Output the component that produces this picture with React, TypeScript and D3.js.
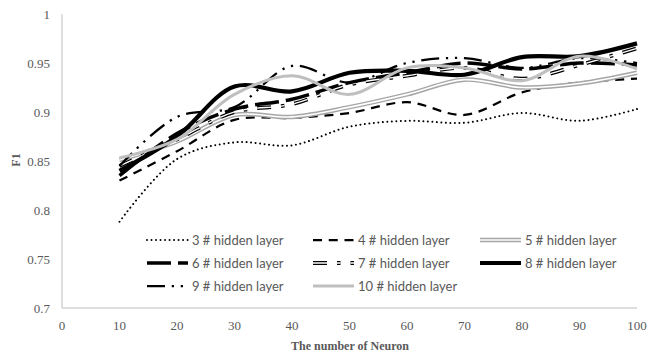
import React from "react";
import * as d3 from "d3";

const neurons = [10, 20, 30, 40, 50, 60, 70, 80, 90, 100];
const layer3 = [0.788, 0.852, 0.869, 0.866, 0.885, 0.891, 0.889, 0.899, 0.891, 0.903];
const layer4 = [0.830, 0.860, 0.892, 0.894, 0.899, 0.910, 0.897, 0.920, 0.930, 0.934];
const layer5 = [0.851, 0.870, 0.897, 0.895, 0.905, 0.918, 0.933, 0.925, 0.929, 0.940];
const layer6 = [0.835, 0.878, 0.903, 0.913, 0.930, 0.940, 0.950, 0.944, 0.950, 0.948];
const layer7 = [0.845, 0.872, 0.900, 0.908, 0.928, 0.937, 0.945, 0.934, 0.948, 0.965];
const layer8 = [0.840, 0.875, 0.926, 0.921, 0.940, 0.942, 0.938, 0.956, 0.957, 0.970];
const layer9 = [0.845, 0.895, 0.905, 0.947, 0.930, 0.950, 0.955, 0.945, 0.955, 0.950];
const layer10 = [0.853, 0.872, 0.918, 0.937, 0.918, 0.945, 0.945, 0.932, 0.957, 0.944];

const seriesNames = [
  "3 # hidden layer",
  "4 # hidden layer",
  "5 # hidden layer",
  "6 # hidden layer",
  "7 # hidden layer",
  "8 # hidden layer",
  "9 # hidden layer",
  "10 # hidden layer",
];
const seriesValues = [layer3, layer4, layer5, layer6, layer7, layer8, layer9, layer10];

const xTicks = [0, 10, 20, 30, 40, 50, 60, 70, 80, 90, 100];
const yTicks = [0.7, 0.75, 0.8, 0.85, 0.9, 0.95, 1];

type Style = {
  color: string;
  width: number;
  dash?: string;
  cap?: "butt" | "round";
  inner?: number; // double line inner white width
};

const styles: Style[] = [
  { color: "#000", width: 2, dash: "0.01 4.5", cap: "round" },
  { color: "#000", width: 2.25, dash: "9 6.75" },
  { color: "#a6a6a6", width: 4.5, inner: 1.6 },
  { color: "#000", width: 3.5, dash: "24 7" },
  { color: "#000", width: 3.8, dash: "14 10 3.5 10", inner: 1.4 },
  { color: "#000", width: 4.2 },
  { color: "#000", width: 2.25, dash: "18 6.75 2.25 6.75 2.25 6.75" },
  { color: "#bfbfbf", width: 3 },
];

const W = 648;
const H = 356;
const left = 62;
const right = 637;
const top = 14;
const bottom = 308;

export default function App() {
  const x = d3.scaleLinear().domain([0, 100]).range([left, right]);
  const y = d3.scaleLinear().domain([0.7, 1]).range([bottom, top]);
  const line = d3
    .line<[number, number]>()
    .x((d) => x(d[0]))
    .y((d) => y(d[1]))
    .curve(d3.curveCatmullRom.alpha(0.5));

  const renderPath = (d: string, s: Style, key: string) => (
    <g key={key}>
      <path
        d={d}
        fill="none"
        stroke={s.color}
        strokeWidth={s.width}
        strokeDasharray={s.dash}
        strokeLinecap={s.cap || "butt"}
        strokeLinejoin="round"
      />
      {s.inner ? (
        <path
          d={d}
          fill="none"
          stroke="#fff"
          strokeWidth={s.inner}
          strokeDasharray={s.dash}
          strokeLinecap={s.cap || "butt"}
          strokeLinejoin="round"
        />
      ) : null}
    </g>
  );

  const legendCols = [147, 313, 480];
  const legendRows = [240, 263, 286];

  return (
    <div style={{ position: "absolute", left: 0, top: 0, width: W, height: H, background: "#fff" }}>
      <svg width={W} height={H} viewBox={`0 0 ${W} ${H}`}>
        <rect x={0} y={0} width={W} height={H} fill="#fff" />
        {/* axes */}
        <line x1={left} x2={left} y1={top} y2={bottom} stroke="#bfbfbf" strokeWidth={1} />
        <line x1={left} x2={right} y1={bottom} y2={bottom} stroke="#bfbfbf" strokeWidth={1} />
        {yTicks.map((t) => (
          <text
            key={"y" + t}
            x={50}
            y={y(t)}
            dy="0.35em"
            textAnchor="end"
            fontFamily="Liberation Serif"
            fontSize={13}
            fill="#595959"
          >
            {t}
          </text>
        ))}
        {xTicks.map((t) => (
          <text
            key={"x" + t}
            x={x(t)}
            y={325}
            dy="0.35em"
            textAnchor="middle"
            fontFamily="Liberation Serif"
            fontSize={13}
            fill="#595959"
          >
            {t}
          </text>
        ))}
        <text
          x={350}
          y={346}
          dy="0.35em"
          textAnchor="middle"
          fontFamily="Liberation Serif"
          fontWeight="bold"
          fontSize={12}
          fill="#595959"
        >
          The number of Neuron
        </text>
        <text
          transform={`translate(16,160) rotate(-90)`}
          dy="0.35em"
          textAnchor="middle"
          fontFamily="Liberation Serif"
          fontWeight="bold"
          fontSize={12}
          fill="#595959"
        >
          F1
        </text>
        {/* series */}
        {seriesValues.map((vals, i) => {
          const pts = neurons.map((n, j) => [n, vals[j]] as [number, number]);
          return renderPath(line(pts) || "", styles[i], "s" + i);
        })}
        {/* legend */}
        {seriesNames.map((name, i) => {
          const cx = legendCols[i % 3];
          const cy = legendRows[Math.floor(i / 3)];
          const d = `M${cx},${cy}L${cx + 41},${cy}`;
          return (
            <g key={"lg" + i}>
              {renderPath(d, styles[i], "lp" + i)}
              <text
                x={cx + 45}
                y={cy}
                dy="0.35em"
                fontFamily="Lato"
                fontSize={13}
                fill="#595959"
              >
                {name}
              </text>
            </g>
          );
        })}
      </svg>
    </div>
  );
}
